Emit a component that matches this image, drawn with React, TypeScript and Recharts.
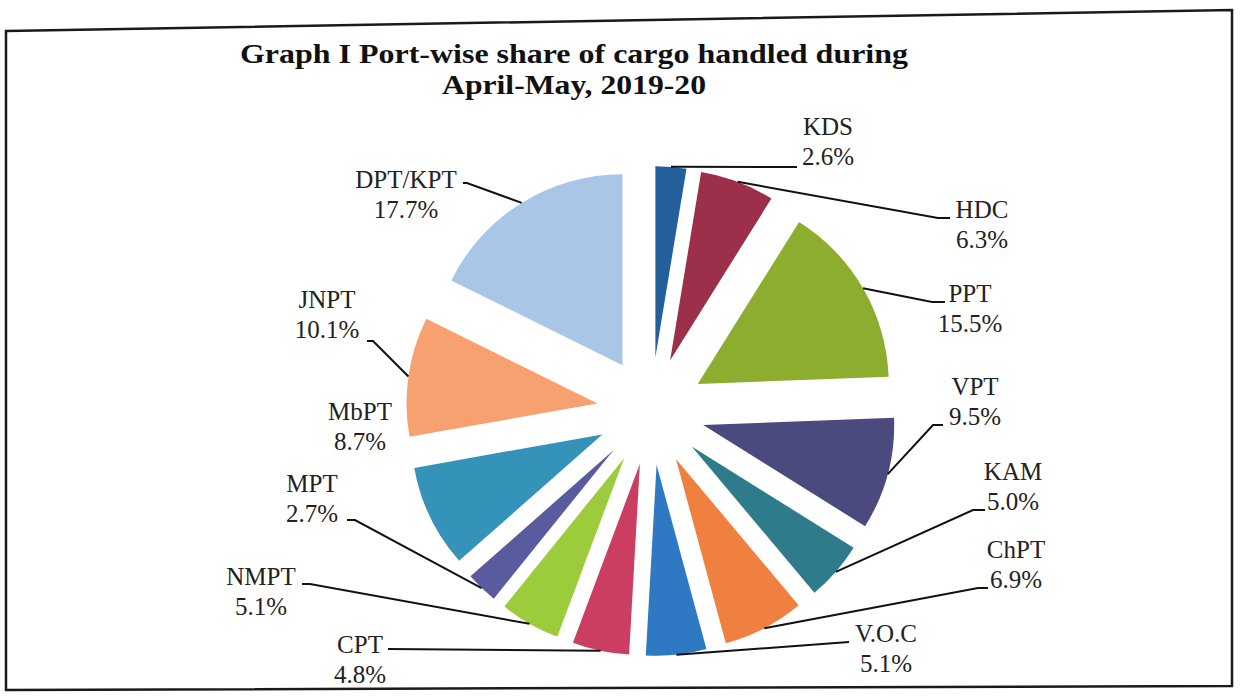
import React from "react";
import { PieChart, Pie, Sector } from "recharts";

// port names, clockwise from 12 o'clock
const ports = ["KDS", "HDC", "PPT", "VPT", "KAM", "ChPT", "V.O.C", "CPT", "NMPT", "MPT", "MbPT", "JNPT", "DPT/KPT"];
const shares = [2.6, 6.3, 15.5, 9.5, 5.0, 6.9, 5.1, 4.8, 5.1, 2.7, 8.7, 10.1, 17.7];
const colors = [
  "#235f9a", "#9c2f4a", "#8cad2e", "#4b4a7e", "#2e7b8b", "#f08040", "#2e78c4",
  "#cc3d62", "#9ccc3c", "#5a5a9e", "#3592b8", "#f7a070", "#a9c6e6",
];
const titleLines = ["Graph I Port-wise share of cargo handled during", "April-May, 2019-20"];

const pieData = ports.map((name, i) => ({ name, value: shares[i] }));

// label placement: text centre x, first baseline y, leader elbow (x, y), leader end x
const labelLayout: { tx: number; ty: number; ex?: number; ey?: number; hx?: number }[] = [
  { tx: 828, ty: 135, ex: 797, ey: 167, hx: 797 },
  { tx: 982, ty: 218, ex: 938, ey: 218, hx: 950 },
  { tx: 970, ty: 302, ex: 932, ey: 302, hx: 945 },
  { tx: 975, ty: 395, ex: 933, ey: 425, hx: 943 },
  { tx: 1013, ty: 480, ex: 973, ey: 510, hx: 985 },
  { tx: 1016, ty: 558, ex: 978, ey: 588, hx: 988 },
  { tx: 886, ty: 642, ex: 849, ey: 642, hx: 849 },
  { tx: 360, ty: 653, ex: 388, ey: 649, hx: 388 },
  { tx: 261, ty: 585, ex: 310, ey: 584, hx: 302 },
  { tx: 312, ty: 492, ex: 355, ey: 520, hx: 347 },
  { tx: 360, ty: 420 },
  { tx: 327, ty: 308, ex: 373, ey: 341, hx: 367 },
  { tx: 406, ty: 188, ex: 467, ey: 183, hx: 463 },
];

const EXPLODE = 54;
const RAD = Math.PI / 180;
const polar = (cx: number, cy: number, r: number, a: number) => ({
  x: cx + r * Math.cos(-a * RAD),
  y: cy + r * Math.sin(-a * RAD),
});

const serif = "'Liberation Serif', 'Times New Roman', serif";
const labelFont = { fontFamily: serif, fontSize: 25, fill: "#222" };

// draws the exploded slice, its leader line and its label
function ExplodedSlice(props: any) {
  const { cx, cy, outerRadius, startAngle, endAngle, index } = props;
  const mid = props.midAngle ?? (startAngle + endAngle) / 2;
  const o = polar(cx, cy, EXPLODE, mid);
  const tip = polar(o.x, o.y, outerRadius, mid);
  const lay = labelLayout[index];
  return (
    <g>
      <Sector
        cx={o.x}
        cy={o.y}
        innerRadius={0}
        outerRadius={outerRadius}
        startAngle={startAngle}
        endAngle={endAngle}
        fill={colors[index]}
        stroke="none"
      />
      {lay.ex !== undefined && (
        <polyline
          points={`${tip.x},${tip.y} ${lay.ex},${lay.ey} ${lay.hx},${lay.ey}`}
          fill="none"
          stroke="#111"
          strokeWidth={2}
        />
      )}
      <text x={lay.tx} y={lay.ty} textAnchor="middle" {...labelFont}>
        {ports[index]}
      </text>
      <text x={lay.tx} y={lay.ty + 30} textAnchor="middle" {...labelFont}>
        {`${shares[index].toFixed(1)}%`}
      </text>
    </g>
  );
}

export default function App() {
  return (
    <div style={{ position: "absolute", left: 0, top: 0, width: 1243, height: 696, background: "#fff" }}>
      <svg width={1243} height={696} style={{ position: "absolute", left: 0, top: 0 }}>
        <polygon points="6,31 1232,10 1232,686 6,690" fill="none" stroke="#1a1a1a" strokeWidth={2.5} />
        <text
          x={574}
          y={63}
          textAnchor="middle"
          fontFamily={serif}
          fontWeight="bold"
          fontSize={28}
          fill="#111"
          textLength={668}
          lengthAdjust="spacingAndGlyphs"
        >
          {titleLines[0]}
        </text>
        <text
          x={574}
          y={94}
          textAnchor="middle"
          fontFamily={serif}
          fontWeight="bold"
          fontSize={28}
          fill="#111"
          textLength={264}
          lengthAdjust="spacingAndGlyphs"
        >
          {titleLines[1]}
        </text>
      </svg>
      <div style={{ position: "absolute", left: 0, top: 0 }}>
        <PieChart width={1243} height={696} margin={{ top: 0, right: 0, bottom: 0, left: 0 }}>
          <Pie
            data={pieData}
            dataKey="value"
            nameKey="name"
            cx={651}
            cy={411}
            innerRadius={0}
            outerRadius={191}
            startAngle={90}
            endAngle={-270}
            fill="transparent"
            stroke="none"
            labelLine={false}
            label={ExplodedSlice}
            isAnimationActive={false}
          />
        </PieChart>
      </div>
    </div>
  );
}
